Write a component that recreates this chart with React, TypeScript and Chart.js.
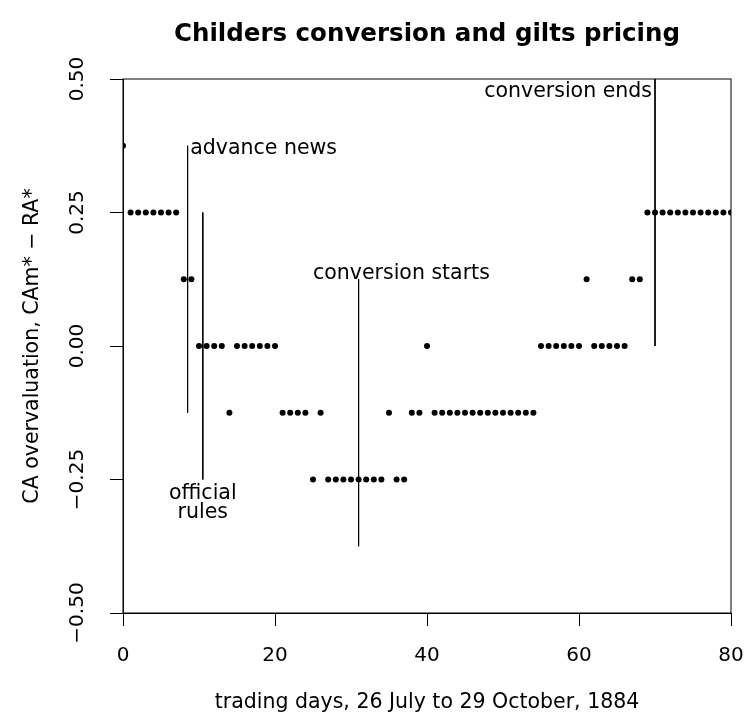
import React, { useEffect, useRef } from 'react';
import { Chart, registerables } from 'chart.js';

Chart.register(...registerables);

// ---- data ----
const days = [
  0, 1, 2, 3, 4, 5, 6, 7, 8, 9, 10, 11, 12, 13, 14, 15, 16, 17, 18, 19, 20,
  21, 22, 23, 24, 25, 26, 27, 28, 29, 30, 31, 32, 33, 34, 35, 36, 37, 38, 39, 40,
  41, 42, 43, 44, 45, 46, 47, 48, 49, 50, 51, 52, 53, 54, 55, 56, 57, 58, 59, 60,
  61, 62, 63, 64, 65, 66, 67, 68, 69, 70, 71, 72, 73, 74, 75, 76, 77, 78, 79, 80,
];
const overvaluation = [
  0.375,
  0.25, 0.25, 0.25, 0.25, 0.25, 0.25, 0.25,
  0.125, 0.125,
  0, 0, 0, 0,
  -0.125,
  0, 0, 0, 0, 0, 0,
  -0.125, -0.125, -0.125, -0.125,
  -0.25,
  -0.125,
  -0.25, -0.25, -0.25, -0.25, -0.25, -0.25, -0.25, -0.25,
  -0.125,
  -0.25, -0.25,
  -0.125, -0.125,
  0,
  -0.125, -0.125, -0.125, -0.125, -0.125, -0.125, -0.125,
  -0.125, -0.125, -0.125, -0.125, -0.125, -0.125, -0.125,
  0, 0, 0, 0, 0, 0,
  0.125,
  0, 0, 0, 0, 0,
  0.125, 0.125,
  0.25, 0.25, 0.25, 0.25, 0.25, 0.25, 0.25, 0.25, 0.25, 0.25, 0.25, 0.25,
];

const xTickValues = [0, 20, 40, 60, 80];
const xTickLabels = ['0', '20', '40', '60', '80'];
const yTickValues = [-0.5, -0.25, 0, 0.25, 0.5];
const yTickLabels = ['\u22120.50', '\u22120.25', '0.00', '0.25', '0.50'];

// event markers (vertical segments)
const eventX = [8.5, 10.5, 31, 70];
const eventYFrom = [0.375, 0.25, 0.125, 0.5];
const eventYTo = [-0.125, -0.25, -0.375, 0];

// event labels
const labelLines = [['advance news'], ['official', 'rules'], ['conversion starts'], ['conversion ends']];
const labelX = [8.85, 10.5, 25.0, 69.6];
const labelY = [0.37, -0.276, 0.136, 0.476];
const labelAlign = ['left', 'center', 'left', 'right'];

const TITLE = 'Childers conversion and gilts pricing';
const X_TITLE = 'trading days, 26 July to 29 October, 1884';
const Y_TITLE = 'CA overvaluation, CAm* \u2212 RA*';

const FONT = '"DejaVu Sans", "Liberation Sans", Arial, sans-serif';

const boxPlugin = {
  id: 'plotBox',
  afterDraw(chart: any) {
    const { ctx, chartArea: a } = chart;
    ctx.save();
    ctx.strokeStyle = '#000';
    ctx.lineWidth = 1;
    ctx.strokeRect(a.left, a.top, a.right - a.left, a.bottom - a.top);
    ctx.restore();
  },
};

const labelPlugin = {
  id: 'eventLabels',
  afterDatasetsDraw(chart: any) {
    const { ctx } = chart;
    const xs = chart.scales.x;
    const ys = chart.scales.y;
    ctx.save();
    ctx.font = '20.5px ' + FONT;
    ctx.fillStyle = '#000';
    ctx.textBaseline = 'middle';
    labelLines.forEach((lines, i) => {
      const px = xs.getPixelForValue(labelX[i]);
      const py = ys.getPixelForValue(labelY[i]);
      ctx.textAlign = labelAlign[i];
      lines.forEach((t, j) => {
        ctx.fillText(t, px, py + j * 19);
      });
    });
    ctx.restore();
  },
};

export default function App() {
  const ref = useRef<HTMLCanvasElement | null>(null);

  useEffect(() => {
    if (!ref.current) return;
    const points = days.map((d, i) => ({ x: d, y: overvaluation[i] }));
    const eventSets = eventX.map((x, i) => ({
      label: 'event' + i,
      data: [
        { x, y: eventYFrom[i] },
        { x, y: eventYTo[i] },
      ],
      showLine: true,
      borderColor: '#000',
      borderWidth: 1,
      pointRadius: 0,
      clip: false as any,
    }));

    const chart = new Chart(ref.current, {
      type: 'scatter',
      data: {
        datasets: [
          ...eventSets,
          {
            label: 'overvaluation',
            data: points,
            pointRadius: 3,
            pointBackgroundColor: '#000',
            pointBorderWidth: 0,
            showLine: false,
            clip: 0 as any,
          },
        ],
      },
      options: {
        responsive: false,
        animation: false,
        layout: { padding: 0 },
        plugins: {
          legend: { display: false },
          tooltip: { enabled: false },
          title: {
            display: true,
            fullSize: false,
            text: TITLE,
            color: '#000',
            font: { family: FONT, size: 24.5, weight: 'bold' },
            padding: { top: 20, bottom: 29.6 },
          },
        },
        scales: {
          x: {
            type: 'linear',
            min: 0,
            max: 80,
            afterBuildTicks: (s: any) => {
              s.ticks = xTickValues.map((v) => ({ value: v }));
            },
            afterFit: (s: any) => {
              s.height = 102;
              s.paddingRight = 14;
              s.paddingLeft = 0;
            },
            grid: { drawOnChartArea: false, drawTicks: true, tickLength: 13, color: '#000' },
            border: { display: true, color: '#000', width: 1 },
            ticks: {
              color: '#000',
              font: { family: FONT, size: 20 },
              padding: 18,
              maxRotation: 0,
              autoSkip: false,
              callback: (v: any) => xTickLabels[xTickValues.indexOf(v)],
            },
            title: {
              display: true,
              text: X_TITLE,
              color: '#000',
              font: { family: FONT, size: 20.5 },
              padding: { top: 0, bottom: 0 },
            },
          },
          y: {
            type: 'linear',
            min: -0.5,
            max: 0.5,
            afterBuildTicks: (s: any) => {
              s.ticks = yTickValues.map((v) => ({ value: v }));
            },
            afterFit: (s: any) => {
              s.width = 123;
              s.paddingTop = 0;
              s.paddingBottom = 0;
            },
            grid: { drawOnChartArea: false, drawTicks: true, tickLength: 13, color: '#000' },
            border: { display: true, color: '#000', width: 1 },
            ticks: {
              color: '#000',
              font: { family: FONT, size: 20 },
              padding: 2,
              minRotation: 90,
              maxRotation: 90,
              crossAlign: 'center',
              autoSkip: false,
              callback: (v: any) => yTickLabels[yTickValues.indexOf(v)],
            },
            title: {
              display: true,
              text: Y_TITLE,
              color: '#000',
              font: { family: FONT, size: 20.5 },
              padding: { top: 20, bottom: 0 },
            },
          },
        },
      } as any,
      plugins: [boxPlugin, labelPlugin],
    });
    return () => chart.destroy();
  }, []);

  return (
    <div style={{ position: 'absolute', left: 0, top: 0, width: 745, height: 715, background: '#fff' }}>
      <canvas ref={ref} width={745} height={715} style={{ display: 'block' }} />
    </div>
  );
}
